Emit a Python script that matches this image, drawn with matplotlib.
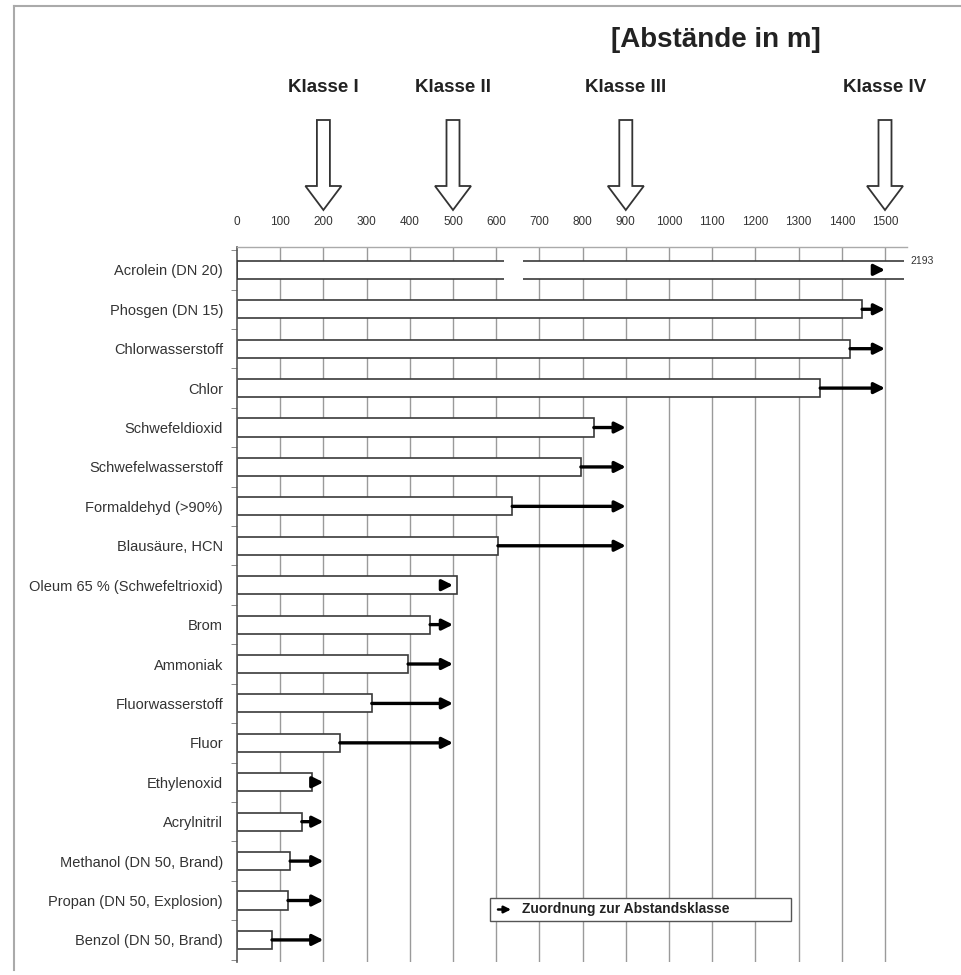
import matplotlib
matplotlib.use("Agg")
import matplotlib.pyplot as plt
from matplotlib.patches import Polygon, Rectangle, FancyArrowPatch
from matplotlib.lines import Line2D
from matplotlib.transforms import blended_transform_factory

plt.rcParams['font.family'] = ['Liberation Sans', 'DejaVu Sans']

# ---- data ----
substances = ["Acrolein (DN 20)", "Phosgen (DN 15)", "Chlorwasserstoff", "Chlor",
              "Schwefeldioxid", "Schwefelwasserstoff", "Formaldehyd (>90%)",
              "Blausäure, HCN", "Oleum 65 % (Schwefeltrioxid)", "Brom", "Ammoniak",
              "Fluorwasserstoff", "Fluor", "Ethylenoxid", "Acrylnitril",
              "Methanol (DN 50, Brand)", "Propan (DN 50, Explosion)", "Benzol (DN 50, Brand)"]
distances = [2193, 1447, 1419, 1350, 826, 796, 637, 604, 510, 447, 396, 312, 238,
             174, 150, 123, 118, 81]
assigned_class = [1500, 1500, 1500, 1500, 900, 900, 900, 900, 500, 500, 500, 500, 500,
                  200, 200, 200, 200, 200]
class_names = ["Klasse I", "Klasse II", "Klasse III", "Klasse IV"]
class_values = [200, 500, 900, 1500]
x_ticks = list(range(0, 1600, 100))
acrolein_label = "2193"

W, H = 962, 975
fig = plt.figure(figsize=(W / 100, H / 100), dpi=100)
fig.patch.set_facecolor("white")

XMAX = 1550
ax_left, ax_right, ax_top, ax_bot = 237, 237 + XMAX * 0.432, 247, 962
ax = fig.add_axes([ax_left / W, 1 - ax_bot / H, (ax_right - ax_left) / W, (ax_bot - ax_top) / H])

n = len(substances)
ax.set_xlim(0, XMAX)
ax.set_ylim(n - 1 + 0.56, -0.58)

# grid
for x in x_ticks[1:]:
    ax.axvline(x, color="#9a9a9a", lw=1.0, zorder=0)

bar_h = 0.46
edge = "#3a3a3a"
arrow_props = dict(arrowstyle="-|>", color="black", lw=2.4,
                   mutation_scale=16, shrinkA=0, shrinkB=0)
for i, (v, c) in enumerate(zip(distances, assigned_class)):
    if v > XMAX:
        # broken bar (value outside scale)
        gap0, gap1 = 618, 663
        y0, y1 = i - bar_h / 2, i + bar_h / 2
        ax.add_patch(Rectangle((0, y0), XMAX, bar_h, facecolor="white", edgecolor="none", zorder=2))
        for yy in (y0, y1):
            ax.plot([0, gap0], [yy, yy], color=edge, lw=1.2, zorder=3, solid_capstyle="butt")
            ax.plot([gap1, XMAX - 5], [yy, yy], color=edge, lw=1.2, zorder=3, solid_capstyle="butt")
        ax.plot([0, 0], [y0, y1], color=edge, lw=1.2, zorder=3)
        ax.text(XMAX + 8, y0, acrolein_label, fontsize=7.5, va="center", ha="left",
                color="#333333", clip_on=False)
        ax.annotate("", xy=(c, i), xytext=(c - 25, i), arrowprops=arrow_props, zorder=4)
    else:
        ax.barh(i, v, height=bar_h, color="white", edgecolor=edge, lw=1.2, zorder=2)
        start = v if v < c else c - 25
        ax.annotate("", xy=(c, i), xytext=(start, i), arrowprops=arrow_props, zorder=4)

# axes styling
ax.set_yticks(range(n))
ax.set_yticklabels(substances, fontsize=10.5, color="#333333")
ax.tick_params(axis="y", length=0, pad=10)
ax.set_yticks([i + 0.5 for i in range(-1, n)], minor=True)
ax.tick_params(axis="y", which="minor", length=4, color="#777777", direction="out")
ax.xaxis.tick_top()
ax.set_xticks(x_ticks)
ax.set_xticklabels([str(t) for t in x_ticks], fontsize=8.5, color="#333333")
ax.tick_params(axis="x", length=0, pad=14)
for s in ("right", "bottom"):
    ax.spines[s].set_visible(False)
ax.spines["left"].set_color("#555555")
ax.spines["left"].set_linewidth(1.2)
ax.spines["top"].set_color("#aaaaaa")
ax.spines["top"].set_linewidth(1.0)
ax.set_facecolor("none")

# class arrows above the chart (x in data, y in figure)
tr = blended_transform_factory(ax.transData, fig.transFigure)
shaft_hw = 6.5 / 0.432
head_hw = 18 / 0.432
y_top, y_head, y_tip = 1 - 120 / H, 1 - 186 / H, 1 - 210 / H
for name, cv in zip(class_names, class_values):
    pts = [(cv - shaft_hw, y_top), (cv + shaft_hw, y_top), (cv + shaft_hw, y_head),
           (cv + head_hw, y_head), (cv, y_tip), (cv - head_hw, y_head), (cv - shaft_hw, y_head)]
    fig.add_artist(Polygon(pts, closed=True, facecolor="white", edgecolor="#333333",
                           lw=1.3, transform=tr))
    fig.text(cv, 1 - 87 / H, name, transform=tr, ha="center", va="center",
             fontsize=13.5, fontweight="bold", color="#222222")

fig.text(716 / W, 1 - 40 / H, "[Abstände in m]", ha="center", va="center",
         fontsize=20, fontweight="bold", color="#222222")

# legend box
lx0, lx1, ly0, ly1 = 490, 791, 898, 921
fig.add_artist(Rectangle((lx0 / W, 1 - ly1 / H), (lx1 - lx0) / W, (ly1 - ly0) / H,
                         transform=fig.transFigure, facecolor="white",
                         edgecolor="#555555", lw=1.0, zorder=5))
ym = 1 - (ly0 + ly1) / 2 / H
fig.add_artist(FancyArrowPatch((498 / W, ym), (511 / W, ym), transform=fig.transFigure,
                               arrowstyle="-|>", mutation_scale=10, lw=1.8, color="black",
                               shrinkA=0, shrinkB=0, zorder=6))
fig.text(522 / W, ym, "Zuordnung zur Abstandsklasse", ha="left", va="center",
         fontsize=10, fontweight="bold", color="#222222", zorder=6)

# outer frame (left and top edges)
fig.add_artist(Line2D([14 / W, 14 / W], [1 - 970 / H, 1 - 6 / H], transform=fig.transFigure,
                      color="#aaaaaa", lw=1.5))
fig.add_artist(Line2D([14 / W, 1.0], [1 - 6 / H, 1 - 6 / H], transform=fig.transFigure,
                      color="#aaaaaa", lw=1.5))

fig.savefig("out.png", dpi=100)
